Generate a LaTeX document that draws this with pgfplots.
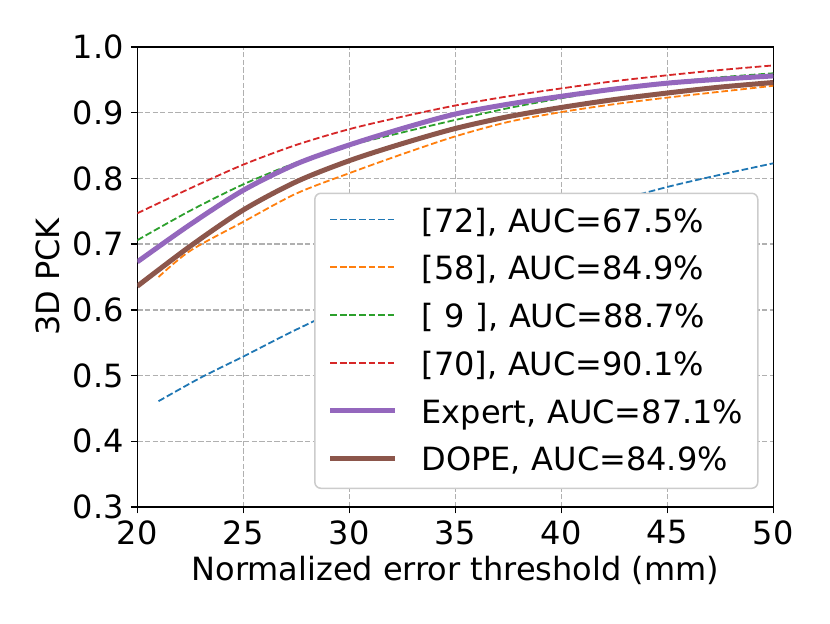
\documentclass[border=0pt]{standalone}
\usepackage{pgfplots}
\pgfplotsset{compat=1.18}
\usepackage{fontspec}
\setmainfont{DejaVu Sans}
\definecolor{tabblue}{HTML}{1F77B4}
\definecolor{taborange}{HTML}{FF7F0E}
\definecolor{tabgreen}{HTML}{2CA02C}
\definecolor{tabred}{HTML}{D62728}
\definecolor{tabpurple}{HTML}{9467BD}
\definecolor{tabbrown}{HTML}{8C564B}
\definecolor{gridgray}{HTML}{B0B0B0}
\begin{document}
\begin{tikzpicture}
\path[use as bounding box] (-68.65pt,-58pt) rectangle (346.35pt,253.5pt);
\begin{axis}[
  at={(0,0)}, anchor=south west,
  scale only axis,
  width=318pt, height=230pt,
  xmin=20, xmax=50, ymin=0.3, ymax=1.0,
  xtick={20,25,30,35,40,45,50},
  ytick={0.3,0.4,0.5,0.6,0.7,0.8,0.9,1.0},
  yticklabel style={/pgf/number format/.cd, fixed, fixed zerofill, precision=1},
  /pgf/number format/assume math mode=true,
  tick align=outside, xtick pos=bottom, ytick pos=left,
  major tick length=3.2pt,
  every tick/.style={black, line width=0.75pt},
  axis line style={line width=0.75pt},
  tick label style={font=\fontsize{16}{19}\selectfont},
  label style={font=\fontsize{16}{19}\selectfont},
  grid=major,
  major grid style={gridgray, line width=0.72pt, dash pattern=on 2.66pt off 1.15pt},
  xlabel={Normalized error threshold (mm)},
  ylabel={3D PCK},
  xlabel style={at={(axis description cs:0.5,-0.1587)}, anchor=base},
  ylabel style={at={(axis description cs:-0.140,0.5)}, anchor=center},
  legend cell align=left,
  legend image code/.code={\draw[#1] (0pt,0.975pt) -- (32.5pt,0.975pt);},
  legend style={at={(0.278,0.0391)}, anchor=south west,
    draw=black!20, line width=0.75pt, rounded corners=3pt,
    fill=white,
    font=\fontsize{16}{19}\selectfont,
    inner xsep=6.5pt, inner ysep=5pt,
    row sep=5.6pt, column sep=11.85pt,
    nodes={inner xsep=0pt, inner ysep=0pt, text height=14.5pt, text depth=3.75pt,
           text width=161.6pt, align=left}},
]
\addplot[tabblue, line width=0.9pt, dash pattern=on 3.33pt off 1.44pt, smooth] coordinates {
(21,0.461) (23,0.497) (25,0.529) (27.5,0.570) (30,0.607) (35,0.674) (40,0.740) (45,0.787) (50,0.823)};
\addlegendentry{[72], AUC=67.5\%}
\addplot[taborange, line width=0.9pt, dash pattern=on 3.33pt off 1.44pt, smooth] coordinates {
(21,0.650) (22.5,0.690) (25,0.734) (27.5,0.777) (30,0.808) (32.5,0.837) (35,0.864) (37.5,0.886) (40,0.901) (42.5,0.913) (45,0.923) (47.5,0.932) (50,0.941)};
\addlegendentry{[58], AUC=84.9\%}
\addplot[tabgreen, line width=0.9pt, dash pattern=on 3.33pt off 1.44pt, smooth] coordinates {
(20,0.706) (22.5,0.751) (25,0.791) (27.5,0.824) (30,0.850) (32.5,0.870) (35,0.889) (37.5,0.907) (40,0.922) (42.5,0.935) (45,0.946) (47.5,0.954) (50,0.960)};
\addlegendentry{[ 9 ], AUC=88.7\%}
\addplot[tabred, line width=0.9pt, dash pattern=on 3.33pt off 1.44pt, smooth] coordinates {
(20,0.747) (22.5,0.785) (25,0.821) (27.5,0.851) (30,0.875) (32.5,0.894) (35,0.911) (37.5,0.925) (40,0.937) (42.5,0.948) (45,0.957) (47.5,0.965) (50,0.972)};
\addlegendentry{[70], AUC=90.1\%}
\addplot[tabpurple, line width=2.5pt, smooth] coordinates {
(20,0.673) (22.5,0.730) (25,0.782) (27.5,0.822) (30,0.851) (32.5,0.876) (35,0.898) (37.5,0.913) (40,0.925) (42.5,0.936) (45,0.945) (47.5,0.951) (50,0.956)};
\addlegendentry{Expert, AUC=87.1\%}
\addplot[tabbrown, line width=2.5pt, smooth] coordinates {
(20,0.636) (22.5,0.697) (25,0.752) (27.5,0.795) (30,0.827) (32.5,0.853) (35,0.876) (37.5,0.894) (40,0.908) (42.5,0.920) (45,0.930) (47.5,0.939) (50,0.946)};
\addlegendentry{DOPE, AUC=84.9\%}
\end{axis}
\end{tikzpicture}
\end{document}
